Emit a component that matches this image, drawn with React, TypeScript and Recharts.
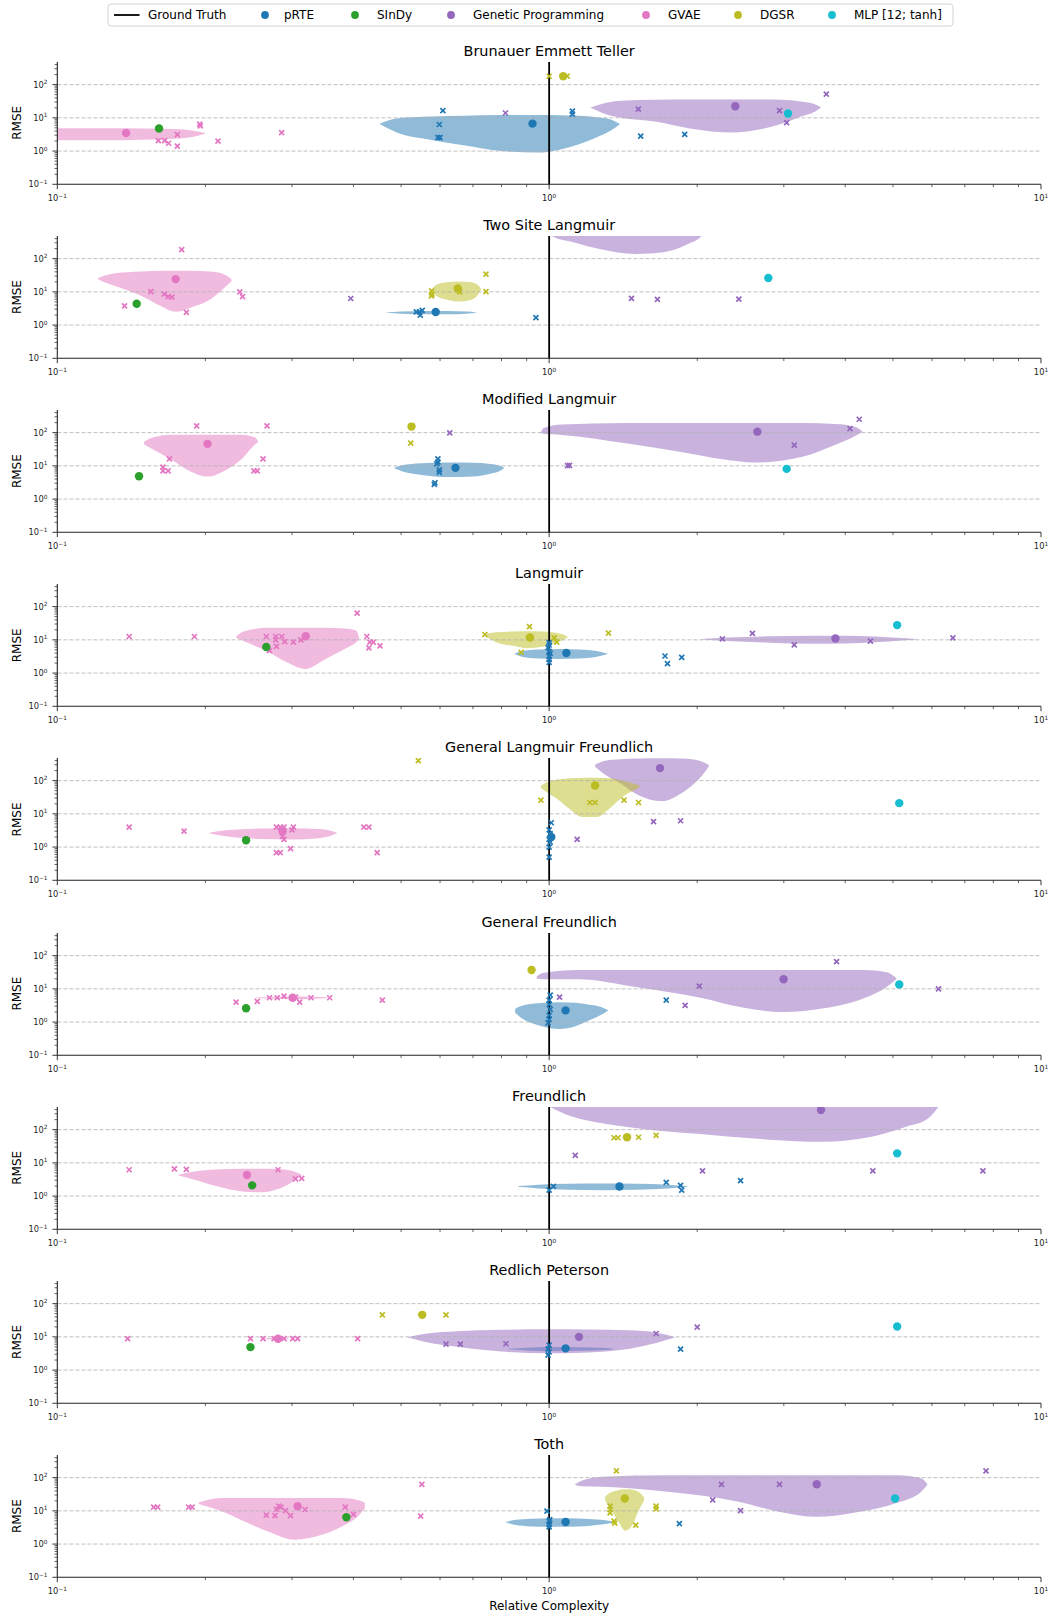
import React from 'react';
import { ComposedChart, XAxis, YAxis, Area, Scatter, Line } from 'recharts';

const FONT = '"DejaVu Sans", Verdana, sans-serif';
const C: Record<string, string> = {
  prte: '#1f77b4', sindy: '#2ca02c', gp: '#9467bd', gvae: '#e377c2', dgsr: '#bcbd22', mlp: '#17becf',
};

const TITLES = ['Brunauer Emmett Teller', 'Two Site Langmuir', 'Modified Langmuir', 'Langmuir',
  'General Langmuir Freundlich', 'General Freundlich', 'Freundlich', 'Redlich Peterson', 'Toth'];
const LEGEND = [
  { key: 'gt', label: 'Ground Truth' }, { key: 'prte', label: 'pRTE' }, { key: 'sindy', label: 'SInDy' },
  { key: 'gp', label: 'Genetic Programming' }, { key: 'gvae', label: 'GVAE' }, { key: 'dgsr', label: 'DGSR' },
  { key: 'mlp', label: 'MLP [12; tanh]' },
];
const X_TICKS = [0.1, 0.2, 0.3, 0.4, 0.5, 0.6, 0.7, 0.8, 0.9, 1, 2, 3, 4, 5, 6, 7, 8, 9, 10];
const Y_TICKS = [0.1, 0.2, 0.3, 0.4, 0.5, 0.6, 0.7, 0.8, 0.9, 1, 2, 3, 4, 5, 6, 7, 8, 9, 10,
  20, 30, 40, 50, 60, 70, 80, 90, 100, 200, 300, 400];
const GRID_TICKS = [1, 10, 100];
const X_DOMAIN = [0.1, 10];
const Y_DOMAIN = [0.1, 480];
const GT_LINE = [{ x: 1, y: 0.01 }, { x: 1, y: 10000 }];
const GRID_LINES = GRID_TICKS.map((v) => [{ x: 0.01, y: v }, { x: 100, y: v }]);

// ---- Brunauer Emmett Teller ----
const bet_gvae_v = [[0.08, 2.1, 4.9], [0.12, 2.1, 4.9], [0.15, 2.2, 4.8], [0.178, 2.4, 4.5], [0.193, 2.9, 3.9], [0.2, 3.4, 3.5]];
const bet_gvae_x = [[0.1605, 2.07], [0.1652, 2.07], [0.1684, 1.72], [0.1754, 3.14], [0.1754, 1.4], [0.1948, 6.5], [0.1953, 5.7], [0.2122, 2.0], [0.2858, 3.6]];
const bet_gvae_m = [0.138, 3.5];
const bet_sindy = [0.161, 4.77];
const bet_prte_v = [[0.452, 6.6, 6.7], [0.49, 3.6, 9.6], [0.573, 2.2, 10.9], [0.67, 1.5, 11.6], [0.8, 1.0, 12.1], [0.95, 0.9, 12.2], [1.05, 1.1, 12.0], [1.15, 1.6, 11.5], [1.25, 2.6, 10.5], [1.33, 4.0, 9.0], [1.39, 6.3, 6.6]];
const bet_prte_x = [[0.594, 2.55], [0.6, 2.55], [0.598, 6.3], [0.608, 16.6], [1.115, 16], [1.115, 12.9], [1.535, 2.8], [1.886, 3.2]];
const bet_prte_m = [0.925, 6.7];
const bet_gp_v = [[1.216, 20, 21], [1.3, 13, 28], [1.4, 10, 33], [1.64, 7.7, 35], [1.93, 4.8, 35.5], [2.37, 3.6, 35.6], [2.64, 4.3, 35.5], [2.96, 6.5, 35], [3.25, 11, 31], [3.46, 15, 26], [3.57, 20.5, 21]];
const bet_gp_x = [[0.815, 14], [1.518, 18.2], [2.94, 16.6], [3.04, 7.2], [3.66, 52]];
const bet_gp_m = [2.39, 22.3];
const bet_dgsr_x = [[1.0, 179], [1.088, 180]];
const bet_dgsr_m = [1.068, 179];
const bet_mlp = [3.06, 13.5];

// ---- Two Site Langmuir ----
const tsl_gvae_v = [[0.121, 24, 26], [0.125, 19, 31], [0.131, 15, 36], [0.148, 7.6, 41], [0.162, 3.8, 43], [0.174, 2.5, 43.5], [0.187, 3.4, 43], [0.205, 6, 41], [0.217, 12, 35], [0.226, 21, 24]];
const tsl_gvae_x = [[0.179, 187], [0.155, 10.2], [0.165, 8.5], [0.168, 7.2], [0.171, 6.9], [0.137, 3.8], [0.183, 2.4], [0.235, 10], [0.238, 7.2]];
const tsl_gvae_m = [0.174, 24.2];
const tsl_sindy = [0.145, 4.4];
const tsl_prte_v = [[0.466, 2.35, 2.4], [0.5, 2.2, 2.55], [0.56, 2.1, 2.65], [0.62, 2.1, 2.65], [0.68, 2.2, 2.55], [0.711, 2.35, 2.4]];
const tsl_prte_x = [[0.537, 2.48], [0.545, 2.48], [0.552, 2.78], [0.547, 2.0], [0.94, 1.67]];
const tsl_prte_m = [0.588, 2.48];
const tsl_gp_v = [[1.0, 3000, 3000], [1.012, 480, 6000], [1.12, 313, 6000], [1.266, 195, 6000], [1.5, 138, 6000], [1.706, 155, 6000], [1.92, 280, 6000], [2.04, 480, 6000], [2.06, 3000, 3000]];
const tsl_gp_x = [[0.395, 6.3], [1.47, 6.4], [1.66, 5.9], [2.43, 6.0]];
const tsl_dgsr_v = [[0.58, 10, 13], [0.59, 7.5, 16.5], [0.62, 5.8, 19.5], [0.655, 5.1, 20.6], [0.69, 5.6, 19.8], [0.71, 7, 17.5], [0.72, 9, 15], [0.727, 12, 12.5]];
const tsl_dgsr_x = [[0.577, 10.7], [0.578, 8.5], [0.576, 7.6], [0.658, 10], [0.744, 34], [0.744, 10.2]];
const tsl_dgsr_m = [0.652, 12.6];
const tsl_mlp = [2.79, 26];

// ---- Modified Langmuir ----
const ml_gvae_v = [[0.15, 45, 52], [0.155, 34, 69], [0.171, 15, 87], [0.187, 6.7, 87], [0.202, 4.75, 87], [0.217, 6.7, 87], [0.238, 17, 87], [0.252, 43, 72], [0.256, 52, 55]];
const ml_gvae_x = [[0.192, 160], [0.267, 160], [0.169, 16.3], [0.164, 9.1], [0.164, 7.1], [0.168, 7.1], [0.262, 16.3], [0.251, 7.1], [0.255, 7.1]];
const ml_gvae_m = [0.202, 46];
const ml_sindy = [0.1466, 4.86];
const ml_prte_v = [[0.484, 8.4, 8.8], [0.5, 7, 10.2], [0.55, 5.3, 12], [0.62, 4.6, 12.6], [0.7, 4.8, 12.4], [0.76, 5.8, 11.4], [0.8, 7.5, 9.7], [0.809, 8.5, 8.7]];
const ml_prte_x = [[0.594, 16.3], [0.591, 11.5], [0.594, 12.9], [0.598, 7.6], [0.598, 6.4], [0.584, 2.78], [0.586, 3.1]];
const ml_prte_m = [0.645, 8.7];
const ml_gp_v = [[0.962, 98, 102], [0.975, 92, 138], [1.06, 85, 175], [1.43, 48, 196], [1.92, 24, 196], [2.23, 16, 196], [2.63, 12.6, 196], [3.29, 19, 196], [3.82, 43, 183], [4.18, 78, 150], [4.33, 105, 110]];
const ml_gp_x = [[0.628, 98], [1.09, 10.2], [1.1, 10.4], [4.27, 253], [4.09, 132], [3.15, 42]];
const ml_gp_m = [2.65, 107];
const ml_dgsr_x = [[0.525, 160], [0.523, 48.6]];
const ml_dgsr_m = [0.525, 152];
const ml_mlp = [3.04, 8.1];

// ---- Langmuir ----
const l_gvae_v = [[0.231, 11.5, 12.6], [0.24, 9, 18], [0.268, 4.4, 23], [0.293, 2.1, 23], [0.319, 1.32, 23], [0.351, 2.66, 23], [0.384, 5.3, 22], [0.405, 8.5, 19], [0.411, 10.7, 11.5]];
const l_gvae_x = [[0.14, 12.6], [0.19, 12.6], [0.266, 12.6], [0.278, 12.6], [0.286, 12.6], [0.278, 10], [0.29, 8.9], [0.302, 8.5], [0.313, 10], [0.27, 4.75], [0.279, 6.4], [0.407, 64], [0.426, 12.6], [0.432, 8.5], [0.439, 8.5], [0.43, 5.7], [0.453, 6.6]];
const l_gvae_m = [0.32, 12.9];
const l_sindy = [0.266, 6.1];
const l_prte_v = [[0.851, 3.75, 3.85], [0.88, 3.1, 4.6], [0.95, 2.75, 5.1], [1.05, 2.66, 5.3], [1.15, 2.75, 5.1], [1.25, 3.1, 4.6], [1.316, 3.75, 3.85]];
const l_prte_x = [[1.0, 8.3], [1.0, 7.0], [0.995, 5.8], [1.0, 4.5], [1.005, 3.9], [1.0, 3.2], [1.0, 2.6], [1.0, 2.1], [1.72, 3.27], [1.86, 2.98], [1.74, 1.92]];
const l_prte_m = [1.084, 4.04];
const l_gp_v = [[2.04, 10.3, 10.7], [2.3, 9.2, 11.8], [2.8, 8.2, 12.8], [3.4, 7.6, 13.4], [4.0, 7.7, 13.3], [4.6, 8.4, 12.6], [5.2, 9.6, 11.4], [5.6, 10.3, 10.7]];
const l_gp_x = [[2.25, 10.7], [2.59, 15.6], [3.15, 7.1], [4.5, 9.1], [6.62, 11.5]];
const l_gp_m = [3.82, 11.0];
const l_dgsr_v = [[0.74, 13, 15], [0.78, 8.5, 17], [0.85, 6.5, 17.8], [0.9, 5.6, 18], [0.97, 6.2, 17.9], [1.03, 8, 16.5], [1.07, 10, 14.5], [1.09, 12, 12.5]];
const l_dgsr_x = [[0.74, 14.5], [0.912, 25], [0.877, 4.2], [1.024, 11.5], [1.036, 8.5], [1.32, 15.9]];
const l_dgsr_m = [0.914, 11.8];
const l_mlp = [5.1, 27.8];

// ---- General Langmuir Freundlich ----
const glf_gvae_v = [[0.204, 2.55, 2.7], [0.22, 2.1, 3.2], [0.26, 1.75, 3.6], [0.3, 1.7, 3.7], [0.34, 1.85, 3.5], [0.36, 2.2, 3.1], [0.37, 2.55, 2.7]];
const glf_gvae_x = [[0.14, 4.0], [0.181, 3.0], [0.279, 4.0], [0.284, 4.0], [0.289, 4.0], [0.302, 4.0], [0.3, 3.3], [0.287, 2.1], [0.289, 1.7], [0.279, 0.68], [0.284, 0.68], [0.298, 0.9], [0.42, 4.0], [0.43, 4.0], [0.447, 0.68]];
const glf_gvae_m = [0.287, 3.0];
const glf_sindy = [0.242, 1.6];
const glf_prte_x = [[1.01, 5.4], [1.0, 3.3], [1.005, 2.5], [1.0, 1.7], [1.005, 1.4], [1.0, 1.0], [1.0, 0.5]];
const glf_prte_m = [1.01, 2.0];
const glf_gp_v = [[1.24, 260, 300], [1.3, 150, 400], [1.4, 80, 440], [1.5, 40, 460], [1.6, 27, 470], [1.7, 24, 475], [1.85, 40, 460], [1.97, 80, 430], [2.06, 160, 360], [2.11, 260, 300]];
const glf_gp_x = [[1.14, 1.7], [1.63, 5.8], [1.85, 6.2]];
const glf_gp_m = [1.68, 238];
const glf_dgsr_v = [[0.962, 60, 70], [1.0, 40, 95], [1.05, 25, 110], [1.1, 14, 118], [1.17, 8, 123], [1.25, 8, 123], [1.33, 15, 117], [1.42, 35, 98], [1.5, 55, 78], [1.53, 66, 70]];
const glf_dgsr_x = [[0.542, 400], [0.962, 26], [1.21, 22], [1.24, 22], [1.42, 26], [1.52, 22]];
const glf_dgsr_m = [1.24, 71];
const glf_mlp = [5.15, 21];

// ---- General Freundlich ----
const gf_gvae_v = [[0.253, 5.3, 5.5], [0.28, 5.0, 5.8], [0.3, 4.8, 6.0], [0.33, 5.0, 5.8], [0.355, 5.3, 5.5]];
const gf_gvae_x = [[0.231, 4.0], [0.255, 4.2], [0.27, 5.4], [0.28, 5.4], [0.289, 6.0], [0.3, 5.4], [0.305, 5.6], [0.311, 4.0], [0.328, 5.4], [0.358, 5.4], [0.458, 4.6]];
const gf_gvae_m = [0.301, 5.4];
const gf_sindy = [0.242, 2.6];
const gf_prte_v = [[0.853, 1.9, 2.5], [0.88, 1.3, 3.1], [0.95, 0.8, 3.7], [1.05, 0.62, 3.95], [1.13, 0.75, 3.8], [1.2, 1.1, 3.4], [1.27, 1.6, 2.9], [1.316, 2.2, 2.3]];
const gf_prte_x = [[1.005, 6.5], [1.0, 4.6], [1.0, 3.4], [1.005, 2.4], [1.0, 1.6], [1.0, 1.2], [0.995, 0.95], [1.73, 4.6]];
const gf_prte_m = [1.08, 2.25];
const gf_gp_v = [[0.944, 20, 24], [0.97, 19.5, 30], [1.14, 19.5, 37], [1.52, 11, 37], [2.03, 5.4, 37], [2.46, 2.8, 37], [3.0, 2.0, 37], [3.62, 2.6, 37], [4.39, 5.4, 37], [4.84, 11, 32], [5.08, 19.5, 21]];
const gf_gp_x = [[1.05, 5.6], [2.02, 12], [1.89, 3.2], [3.84, 66], [6.19, 10]];
const gf_gp_m = [2.997, 19.5];
const gf_dgsr_m = [0.921, 37];
const gf_mlp = [5.15, 13.6];

// ---- Freundlich ----
const f_gvae_v = [[0.176, 4.2, 4.4], [0.19, 3.1, 5.5], [0.21, 2.0, 6.3], [0.24, 1.35, 6.7], [0.26, 1.3, 6.7], [0.28, 1.6, 6.5], [0.3, 2.6, 5.8], [0.314, 4.2, 4.4]];
const f_gvae_x = [[0.14, 6.2], [0.173, 6.6], [0.183, 6.4], [0.281, 6.2], [0.305, 3.3], [0.314, 3.4]];
const f_gvae_m = [0.243, 4.3];
const f_sindy = [0.249, 2.1];
const f_prte_v = [[0.865, 1.9, 2.0], [0.95, 1.7, 2.2], [1.1, 1.55, 2.35], [1.3, 1.5, 2.4], [1.5, 1.55, 2.35], [1.75, 1.7, 2.2], [1.91, 1.9, 2.0]];
const f_prte_x = [[1.0, 1.5], [1.02, 1.95], [1.73, 2.6], [1.85, 2.1], [1.86, 1.5], [2.45, 2.9]];
const f_prte_m = [1.39, 1.95];
const f_gp_v = [[1.0, 500, 500], [1.1, 260, 740], [1.3, 150, 850], [1.6, 100, 900], [2.0, 75, 925], [2.8, 50, 950], [3.6, 43, 957], [4.5, 60, 940], [5.3, 120, 880], [5.9, 220, 780], [6.2, 500, 500]];
const f_gp_x = [[1.13, 16.7], [2.05, 5.7], [4.55, 5.7], [7.62, 5.7]];
const f_gp_m = [3.57, 392];
const f_dgsr_x = [[1.355, 57], [1.38, 57], [1.52, 59], [1.65, 67]];
const f_dgsr_m = [1.44, 59];
const f_mlp = [5.1, 19.3];

// ---- Redlich Peterson ----
const rp_gvae_v = [[0.265, 8.5, 9.0], [0.28, 8.2, 9.4], [0.295, 8.5, 9.0]];
const rp_gvae_x = [[0.139, 8.8], [0.247, 8.8], [0.262, 8.8], [0.276, 8.8], [0.282, 8.8], [0.289, 8.8], [0.301, 8.8], [0.308, 8.8], [0.408, 8.8]];
const rp_gvae_m = [0.281, 8.8];
const rp_sindy = [0.247, 4.9];
const rp_prte_v = [[0.825, 4.2, 4.4], [0.9, 3.9, 4.7], [1.0, 3.7, 4.95], [1.15, 3.8, 4.85], [1.3, 4.0, 4.6], [1.35, 4.25, 4.35]];
const rp_prte_x = [[1.0, 5.6], [0.995, 4.3], [1.0, 3.5], [0.995, 2.8], [1.85, 4.3]];
const rp_prte_m = [1.08, 4.5];
const rp_gp_v = [[0.516, 9.5, 9.8], [0.56, 7, 12.5], [0.65, 5, 14.8], [0.8, 3.6, 16.3], [1.0, 3.2, 16.8], [1.2, 3.4, 16.6], [1.45, 4.3, 15.7], [1.65, 6.5, 13.5], [1.8, 9.5, 9.8]];
const rp_gp_x = [[0.617, 6.0], [0.66, 6.0], [0.817, 6.2], [1.65, 12.6], [2.0, 19.5]];
const rp_gp_m = [1.15, 10];
const rp_dgsr_x = [[0.458, 46], [0.617, 46]];
const rp_dgsr_m = [0.552, 46];
const rp_mlp = [5.1, 20.6];

// ---- Toth ----
const t_gvae_v = [[0.194, 16, 18], [0.2, 14, 20.5], [0.216, 9.8, 24.2], [0.244, 4.3, 24.5], [0.268, 2.4, 24.5], [0.304, 1.35, 24.5], [0.345, 1.9, 24.5], [0.379, 3.4, 24.2], [0.41, 7.2, 21], [0.422, 12, 17.5]];
const t_gvae_x = [[0.157, 12.9], [0.16, 12.9], [0.185, 12.9], [0.188, 12.9], [0.266, 7.4], [0.277, 7.2], [0.279, 11], [0.282, 13.8], [0.285, 12.9], [0.291, 10.2], [0.298, 7.2], [0.319, 11], [0.385, 12.9], [0.4, 7.8], [0.551, 63], [0.548, 6.9]];
const t_gvae_m = [0.308, 13.8];
const t_sindy = [0.387, 6.4];
const t_prte_v = [[0.816, 4.5, 4.6], [0.85, 3.8, 5.3], [0.92, 3.4, 5.8], [1.0, 3.3, 6.0], [1.1, 3.3, 6.0], [1.2, 3.5, 5.7], [1.3, 4.0, 5.2], [1.36, 4.5, 4.6]];
const t_prte_x = [[0.99, 9.8], [1.0, 4.9], [1.0, 3.85], [1.0, 3.3], [1.003, 5.5], [1.84, 4.1]];
const t_prte_m = [1.08, 4.6];
const t_gp_v = [[1.13, 60, 64], [1.16, 55, 79], [1.28, 53, 107], [1.76, 37, 118], [2.4, 19.6, 118], [2.9, 9.8, 118], [3.5, 6.6, 118], [4.22, 9.1, 118], [5.1, 17.5, 118], [5.7, 37, 95], [5.87, 60, 65]];
const t_gp_x = [[2.24, 63], [2.94, 63], [2.15, 21.5], [2.45, 10.2], [7.73, 160]];
const t_gp_m = [3.5, 63];
const t_dgsr_v = [[1.3, 20, 27], [1.33, 12, 35], [1.38, 5, 42], [1.43, 2.5, 44.5], [1.48, 4, 43], [1.52, 10, 37], [1.56, 21, 26]];
const t_dgsr_x = [[1.37, 160], [1.33, 13.8], [1.33, 11], [1.33, 8.7], [1.355, 4.9], [1.36, 4.3], [1.5, 3.7], [1.65, 13.8], [1.65, 11.5]];
const t_dgsr_m = [1.425, 23.6];
const t_mlp = [5.05, 23.6];

type Row = number[];
const toV = (a?: Row[]) => (a || []).map(([x, lo, hi]) => ({ x, range: [lo, hi] }));
const toP = (a?: Row[]) => (a || []).map(([x, y]) => ({ x, y }));

const PANELS = [
  { v: { gvae: bet_gvae_v, prte: bet_prte_v, gp: bet_gp_v }, x: { gvae: bet_gvae_x, prte: bet_prte_x, gp: bet_gp_x, dgsr: bet_dgsr_x }, m: { gvae: bet_gvae_m, prte: bet_prte_m, gp: bet_gp_m, dgsr: bet_dgsr_m, sindy: bet_sindy, mlp: bet_mlp } },
  { v: { gvae: tsl_gvae_v, prte: tsl_prte_v, gp: tsl_gp_v, dgsr: tsl_dgsr_v }, x: { gvae: tsl_gvae_x, prte: tsl_prte_x, gp: tsl_gp_x, dgsr: tsl_dgsr_x }, m: { gvae: tsl_gvae_m, prte: tsl_prte_m, dgsr: tsl_dgsr_m, sindy: tsl_sindy, mlp: tsl_mlp } },
  { v: { gvae: ml_gvae_v, prte: ml_prte_v, gp: ml_gp_v }, x: { gvae: ml_gvae_x, prte: ml_prte_x, gp: ml_gp_x, dgsr: ml_dgsr_x }, m: { gvae: ml_gvae_m, prte: ml_prte_m, gp: ml_gp_m, dgsr: ml_dgsr_m, sindy: ml_sindy, mlp: ml_mlp } },
  { v: { gvae: l_gvae_v, prte: l_prte_v, gp: l_gp_v, dgsr: l_dgsr_v }, x: { gvae: l_gvae_x, prte: l_prte_x, gp: l_gp_x, dgsr: l_dgsr_x }, m: { gvae: l_gvae_m, prte: l_prte_m, gp: l_gp_m, dgsr: l_dgsr_m, sindy: l_sindy, mlp: l_mlp } },
  { v: { gvae: glf_gvae_v, gp: glf_gp_v, dgsr: glf_dgsr_v }, x: { gvae: glf_gvae_x, prte: glf_prte_x, gp: glf_gp_x, dgsr: glf_dgsr_x }, m: { gvae: glf_gvae_m, prte: glf_prte_m, gp: glf_gp_m, dgsr: glf_dgsr_m, sindy: glf_sindy, mlp: glf_mlp } },
  { v: { gvae: gf_gvae_v, prte: gf_prte_v, gp: gf_gp_v }, x: { gvae: gf_gvae_x, prte: gf_prte_x, gp: gf_gp_x }, m: { gvae: gf_gvae_m, prte: gf_prte_m, gp: gf_gp_m, dgsr: gf_dgsr_m, sindy: gf_sindy, mlp: gf_mlp } },
  { v: { gvae: f_gvae_v, prte: f_prte_v, gp: f_gp_v }, x: { gvae: f_gvae_x, prte: f_prte_x, gp: f_gp_x, dgsr: f_dgsr_x }, m: { gvae: f_gvae_m, prte: f_prte_m, gp: f_gp_m, dgsr: f_dgsr_m, sindy: f_sindy, mlp: f_mlp } },
  { v: { gvae: rp_gvae_v, prte: rp_prte_v, gp: rp_gp_v }, x: { gvae: rp_gvae_x, prte: rp_prte_x, gp: rp_gp_x, dgsr: rp_dgsr_x }, m: { gvae: rp_gvae_m, prte: rp_prte_m, gp: rp_gp_m, dgsr: rp_dgsr_m, sindy: rp_sindy, mlp: rp_mlp } },
  { v: { gvae: t_gvae_v, prte: t_prte_v, gp: t_gp_v, dgsr: t_dgsr_v }, x: { gvae: t_gvae_x, prte: t_prte_x, gp: t_gp_x, dgsr: t_dgsr_x }, m: { gvae: t_gvae_m, prte: t_prte_m, gp: t_gp_m, dgsr: t_dgsr_m, sindy: t_sindy, mlp: t_mlp } },
];

const METHODS = ['gvae', 'prte', 'gp', 'dgsr'];
const MED_ORDER = ['prte', 'gp', 'gvae', 'dgsr', 'sindy', 'mlp'];

// layout
const PLOT_TOP0 = 61.7;
const STEP = 174.16;
const PH = 122.3;
const MT = 30;
const XH = 30;
const LEFT = 57.3;
const RIGHT_M = 10;
const W = 1051;
const SPINE = '#222';

const isMajor = (v: number) => Math.abs(Math.log10(v) - Math.round(Math.log10(v))) < 1e-9;
const expLabel = (v: number) => {
  const e = Math.round(Math.log10(v));
  return e < 0 ? '\u2212' + Math.abs(e) : String(e);
};

const XTick = (props: any) => {
  const { x, y, payload } = props;
  const v = payload.value;
  const maj = isMajor(v);
  return (
    <g>
      <line x1={x} x2={x} y1={y} y2={y + (maj ? 4.9 : 2.8)} stroke={SPINE} strokeWidth={maj ? 0.9 : 0.7} />
      {maj && (
        <text x={x} y={y + 17} textAnchor="middle" fontSize={8.3} fill="#222" fontFamily={FONT}>
          10<tspan dy={-3.6} fontSize={5.8}>{expLabel(v)}</tspan>
        </text>
      )}
    </g>
  );
};

const YTick = (props: any) => {
  const { x, y, payload } = props;
  const v = payload.value;
  const maj = isMajor(v);
  return (
    <g>
      <line x1={x} x2={x - (maj ? 4.9 : 2.8)} y1={y} y2={y} stroke={SPINE} strokeWidth={maj ? 0.9 : 0.7} />
      {maj && (
        <text x={x - 9.8} y={y + 3.2} textAnchor="end" fontSize={8.3} fill="#222" fontFamily={FONT}>
          10<tspan dy={-3.6} fontSize={5.8}>{expLabel(v)}</tspan>
        </text>
      )}
    </g>
  );
};

const xShape = (color: string) => (props: any) => {
  const { cx, cy } = props;
  if (cx == null || cy == null) return <g />;
  const s = 2.5;
  return (
    <path d={`M${cx - s},${cy - s}L${cx + s},${cy + s}M${cx - s},${cy + s}L${cx + s},${cy - s}`}
      stroke={color} strokeWidth={1.7} fill="none" />
  );
};
const dotShape = (color: string) => (props: any) => {
  const { cx, cy } = props;
  if (cx == null || cy == null) return <g />;
  return <circle cx={cx} cy={cy} r={4.2} fill={color} />;
};

function Panel({ p, idx }: { p: any; idx: number }) {
  const top = PLOT_TOP0 + STEP * idx;
  return (
    <div style={{ position: 'absolute', left: 0, top: top - MT }}>
      <ComposedChart width={W} height={MT + PH + XH} margin={{ top: MT, right: RIGHT_M, left: 0, bottom: 0 }}>
        <XAxis xAxisId={0} dataKey="x" type="number" scale="log" domain={X_DOMAIN} allowDataOverflow
          ticks={X_TICKS} interval={0} tickSize={0} tickMargin={0} tickLine={false} height={XH}
          tick={(tp: any) => <XTick {...tp} />} axisLine={{ stroke: SPINE, strokeWidth: 1.1 }} />
        <XAxis xAxisId="top" orientation="top" type="number" scale="log" domain={X_DOMAIN} allowDataOverflow
          height={0} tick={false} tickLine={false} axisLine={{ stroke: SPINE, strokeWidth: 1.1 }} />
        <YAxis yAxisId={0} dataKey="y" type="number" scale="log" domain={Y_DOMAIN} allowDataOverflow
          ticks={Y_TICKS} interval={0} tickSize={0} tickMargin={0} tickLine={false} width={LEFT}
          tick={(tp: any) => <YTick {...tp} />} axisLine={{ stroke: SPINE, strokeWidth: 1.1 }} />
        <YAxis yAxisId="right" orientation="right" type="number" scale="log" domain={Y_DOMAIN} allowDataOverflow
          ticks={GRID_TICKS} interval={0} width={0} tick={false} tickLine={false} axisLine={{ stroke: SPINE, strokeWidth: 1.1 }} />
        {GRID_LINES.map((g, gi) => (
          <Line key={'g' + gi} data={g} dataKey="y" stroke="#b0b0b0" strokeWidth={0.8} strokeDasharray="4 2"
            dot={false} activeDot={false} isAnimationActive={false} />
        ))}
        {METHODS.filter((k) => p.v[k]).map((k) => (
          <Area key={'v' + k} data={toV(p.v[k])} dataKey="range" type="monotone" fill={C[k]} fillOpacity={0.5}
            stroke="none" isAnimationActive={false} dot={false} activeDot={false} />
        ))}
        <Line data={GT_LINE} dataKey="y" stroke="#000" strokeWidth={1.8} dot={false} activeDot={false} isAnimationActive={false} />
        {METHODS.filter((k) => p.x[k]).map((k) => (
          <Scatter key={'x' + k} data={toP(p.x[k])} fill={C[k]} shape={xShape(C[k])} isAnimationActive={false} />
        ))}
        {MED_ORDER.filter((k) => p.m[k]).map((k) => (
          <Scatter key={'m' + k} data={toP([p.m[k]])} fill={C[k]} shape={dotShape(C[k])} isAnimationActive={false} />
        ))}
      </ComposedChart>
    </div>
  );
}

const LEG_POS: Record<string, [number, number]> = {
  gt: [127, 148], prte: [265, 284], sindy: [355, 377], gp: [451, 473], gvae: [646, 668], dgsr: [738, 760], mlp: [832, 854],
};

export default function App() {
  return (
    <div style={{ position: 'absolute', left: 0, top: 0, width: W, height: 1616, background: '#fff', fontFamily: FONT }}>
      {PANELS.map((p, i) => <Panel key={i} p={p} idx={i} />)}
      <svg width={W} height={1616} style={{ position: 'absolute', left: 0, top: 0, pointerEvents: 'none' }} fontFamily={FONT}>
        {TITLES.map((t, i) => {
          const top = PLOT_TOP0 + STEP * i;
          return (
            <g key={t}>
              <text x={(LEFT + W - RIGHT_M) / 2} y={top - 6} textAnchor="middle" fontSize={14.4} fill="#000">{t}</text>
              <text transform={`translate(20.8, ${top + PH / 2}) rotate(-90)`} textAnchor="middle" fontSize={12} fill="#000">RMSE</text>
            </g>
          );
        })}
        <text x={(LEFT + W - RIGHT_M) / 2} y={1609.5} textAnchor="middle" fontSize={12} fill="#000">Relative Complexity</text>
        <rect x={108} y={4} width={845} height={22} rx={3} fill="#fff" stroke="#d4d4d4" strokeWidth={1} />
        {LEGEND.map((l) => {
          const [mx, tx] = LEG_POS[l.key];
          return (
            <g key={l.key}>
              {l.key === 'gt'
                ? <line x1={114} x2={139.5} y1={15} y2={15} stroke="#000" strokeWidth={1.8} />
                : <circle cx={mx} cy={15} r={3.9} fill={C[l.key]} />}
              <text x={tx} y={19.2} fontSize={12} fill="#000">{l.label}</text>
            </g>
          );
        })}
      </svg>
    </div>
  );
}
